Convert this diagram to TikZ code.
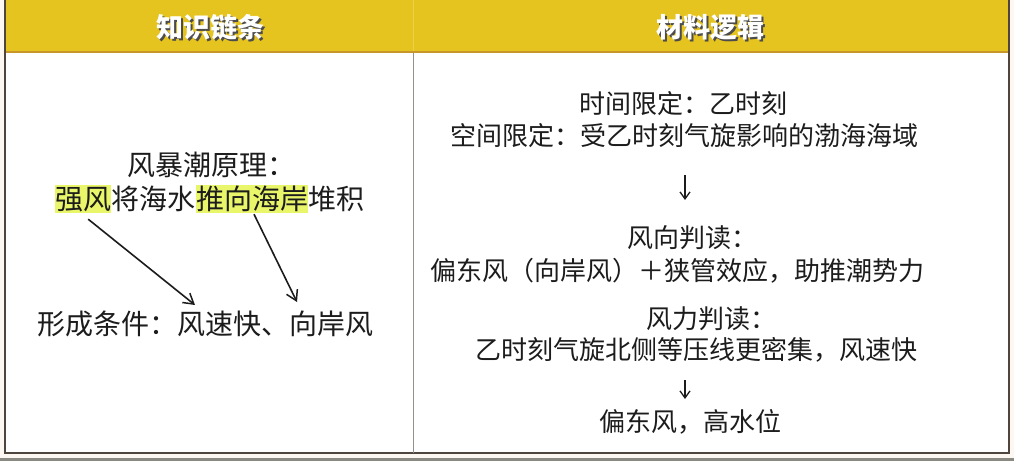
\documentclass[tikz,border=0pt]{standalone}
\usepackage{fontspec}
\newfontfamily\cjk{Noto Sans CJK SC}
\usetikzlibrary{arrows.meta}
\definecolor{hdr}{HTML}{E6C420}
\definecolor{hdrline}{HTML}{C8972C}
\definecolor{frame}{HTML}{50453C}
\definecolor{hlc}{HTML}{E9F66A}
\definecolor{textc}{HTML}{1C1C1C}
\definecolor{pagebg}{HTML}{FCF7F1}
\definecolor{shadowc}{HTML}{8A8A82}
\begin{document}
\begin{tikzpicture}[x=1pt,y=1pt,
  txtL/.style={inner sep=0pt, font=\cjk\fontsize{28}{28}\selectfont, text=textc, anchor=base west, text height=24.6pt, text depth=3.4pt},
  hlbox/.style={txtL, fill=hlc},
  txtR/.style={inner sep=0pt, font=\cjk\fontsize{26}{26}\selectfont, text=textc, text height=22.9pt, text depth=3.1pt},
  headtxt/.style={inner sep=0pt, font=\cjk\bfseries\fontsize{27}{27}\selectfont, text=white},
  headshadow/.style={headtxt, text=black!70},
  arrL/.style={-{Straight Barb[length=10pt,width=12pt,line width=1.5pt]}, line width=1.6pt, draw=textc},
  arrR/.style={-{Straight Barb[length=7pt,width=10pt,line width=1.3pt]}, line width=1.3pt, draw=textc},
  framel/.style={draw=frame, line width=1.5pt}
]
\useasboundingbox (0,0) rectangle (1014,461);
% page and table background
\fill[pagebg] (0,0) rectangle (1014,461);
\fill[shadowc] (0,0) rectangle (1014,3);
\fill[white] (5,8) rectangle (1009,409);
% header
\fill[hdr] (5,409) rectangle (1009,461);
\draw[hdrline, line width=2pt] (5,409) -- (1009,409);
\draw[hdr!80!white, line width=0.8pt] (413,410) -- (413,461);
% frame
\draw[framel] (5,461) -- (5,8) -- (1009,8) -- (1009,461);
\draw[frame!60, line width=0.8pt] (413,408) -- (413,8);
% header titles
\node[headshadow] (h1s) at (212,432) {知识链条};
\node[headtxt] (h1t) at (210,434) {知识链条};
\node[headshadow] (h2s) at (712,432) {材料逻辑};
\node[headtxt] (h2t) at (710,434) {材料逻辑};
% left column
\node[txtL] (lt) at (127,285.4) {风暴潮原理：};
\node[hlbox] (hl1) at (55,251.4) {强风};
\node[txtL] (ln1) at (hl1.base east) {将海水};
\node[hlbox] (hl2) at (ln1.base east) {推向海岸};
\node[txtL] (ln2) at (hl2.base east) {堆积};
\node[txtL] (cond) at (37,126.4) {形成条件：风速快、向岸风};
\coordinate (e1) at (195,156);
\coordinate (e2) at (297,159);
\draw[arrL] ([xshift=5pt,yshift=-6pt]hl1.south) -- (e1);
\draw[arrL] ([xshift=2pt,yshift=-1pt]hl2.south) -- (e2);
% right column
\node[txtR, anchor=base] (r1) at (683,347) {时间限定：乙时刻};
\node[txtR, anchor=base] (r2) at (684,315) {空间限定：受乙时刻气旋影响的渤海海域};
\coordinate (a1s) at (685,286);
\coordinate (a1e) at (685,261);
\draw[arrR] (a1s) -- (a1e);
\node[txtR, anchor=base west] (r3) at (627,213) {风向判读：};
\node[txtR, anchor=base] (r4) at (677,181) {偏东风（向岸风）＋狭管效应，助推潮势力};
\node[txtR, anchor=base west] (r5) at (646,133) {风力判读：};
\node[txtR, anchor=base] (r6) at (696,102) {乙时刻气旋北侧等压线更密集，风速快};
\coordinate (a2s) at (685,81);
\coordinate (a2e) at (685,62);
\draw[arrR] (a2s) -- (a2e);
\node[txtR, anchor=base] (r7) at (690,30) {偏东风，高水位};
\end{tikzpicture}
\end{document}
